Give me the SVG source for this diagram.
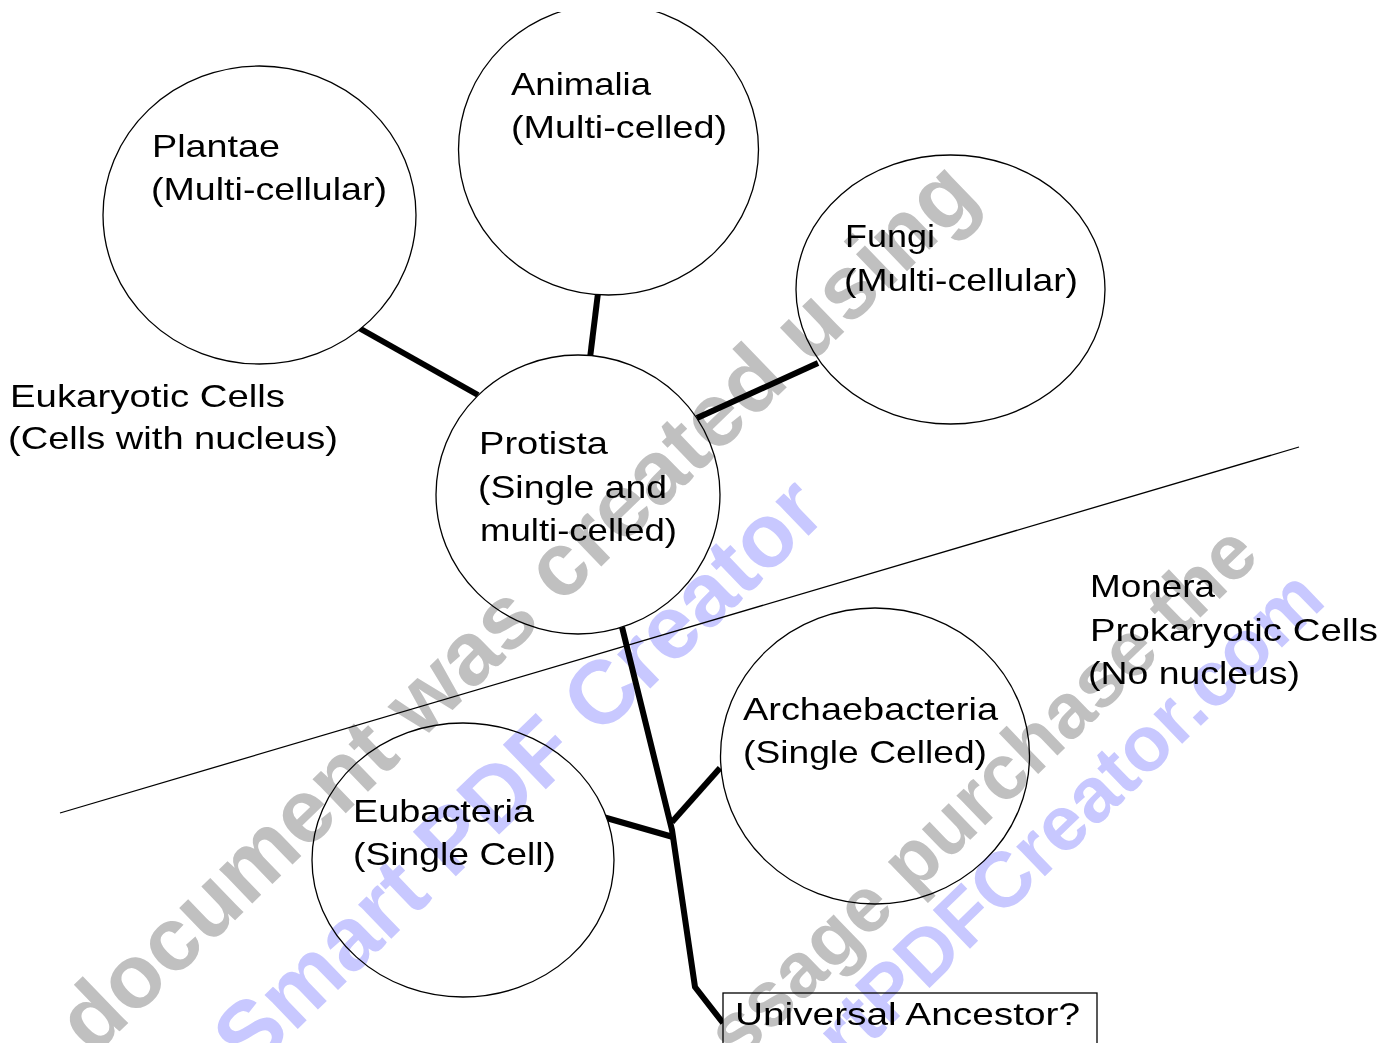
<svg xmlns="http://www.w3.org/2000/svg" width="1397" height="1043" viewBox="0 0 1397 1043">
<style>
.n{fill:#fff;stroke:#000;stroke-width:1.3}
.t{font-family:"Liberation Sans",Arial,sans-serif;font-size:32px;fill:#000}
.c{fill:none;stroke:#000;stroke-width:6;stroke-linejoin:round}
.div{fill:none;stroke:#000;stroke-width:1.3}
.wm{font-family:"Liberation Sans",Arial,sans-serif;font-weight:bold;mix-blend-mode:multiply}
.w1{font-size:90px}
.w2{font-size:78px}
.g{fill:#c0c0c0}
.b{fill:#c8c8ff}
</style>
<defs>
<clipPath id="top"><rect x="0" y="12" width="1397" height="1031"/></clipPath>
</defs>
<rect width="1397" height="1043" fill="#fff"/>
<line class="div" x1="60" y1="813" x2="1299" y2="447"/>
<g id="connectors">
<line class="c" x1="359" y1="328" x2="478" y2="395"/>
<line class="c" x1="598" y1="293" x2="590" y2="358"/>
<line class="c" x1="818" y1="363" x2="697" y2="418"/>
<polyline class="c" points="622,627 672,830 695,987 723,1023"/>
<line class="c" x1="603" y1="817" x2="673" y2="837"/>
<line class="c" x1="720" y1="768" x2="672" y2="822"/>
</g>
<g id="plantae">
<ellipse class="n" cx="259.5" cy="215" rx="156.5" ry="149"/>
<text class="t" x="152" y="157" textLength="128" lengthAdjust="spacingAndGlyphs">Plantae</text>
<text class="t" x="151" y="200" textLength="236" lengthAdjust="spacingAndGlyphs">(Multi-cellular)</text>
</g>
<g id="animalia">
<ellipse class="n" cx="608.5" cy="149.5" rx="150" ry="145.5" clip-path="url(#top)"/>
<text class="t" x="511" y="95" textLength="140" lengthAdjust="spacingAndGlyphs">Animalia</text>
<text class="t" x="511" y="138" textLength="216" lengthAdjust="spacingAndGlyphs">(Multi-celled)</text>
</g>
<g id="fungi">
<ellipse class="n" cx="950.5" cy="289.5" rx="154.5" ry="134.5"/>
<text class="t" x="845" y="247" textLength="90" lengthAdjust="spacingAndGlyphs">Fungi</text>
<text class="t" x="844" y="291" textLength="234" lengthAdjust="spacingAndGlyphs">(Multi-cellular)</text>
</g>
<g id="eukaryotic">
<text class="t" x="10" y="407" textLength="275" lengthAdjust="spacingAndGlyphs">Eukaryotic Cells</text>
<text class="t" x="8" y="449" textLength="330" lengthAdjust="spacingAndGlyphs">(Cells with nucleus)</text>
</g>
<g id="protista">
<ellipse class="n" cx="578" cy="494.5" rx="142" ry="139.5"/>
<text class="t" x="479" y="454" textLength="129" lengthAdjust="spacingAndGlyphs">Protista</text>
<text class="t" x="478" y="498" textLength="189" lengthAdjust="spacingAndGlyphs">(Single and</text>
<text class="t" x="480" y="541" textLength="197" lengthAdjust="spacingAndGlyphs">multi-celled)</text>
</g>
<g id="monera">
<text class="t" x="1090" y="597" textLength="125" lengthAdjust="spacingAndGlyphs">Monera</text>
<text class="t" x="1090" y="641" textLength="288" lengthAdjust="spacingAndGlyphs">Prokaryotic Cells</text>
<text class="t" x="1088" y="684" textLength="212" lengthAdjust="spacingAndGlyphs">(No nucleus)</text>
</g>
<g id="archaebacteria">
<ellipse class="n" cx="875" cy="756" rx="154.5" ry="148"/>
<text class="t" x="743" y="720" textLength="255" lengthAdjust="spacingAndGlyphs">Archaebacteria</text>
<text class="t" x="743" y="763" textLength="244" lengthAdjust="spacingAndGlyphs">(Single Celled)</text>
</g>
<g id="eubacteria">
<ellipse class="n" cx="463" cy="860" rx="151" ry="137"/>
<text class="t" x="353" y="822" textLength="181" lengthAdjust="spacingAndGlyphs">Eubacteria</text>
<text class="t" x="353" y="865" textLength="203" lengthAdjust="spacingAndGlyphs">(Single Cell)</text>
</g>
<g id="ancestor">
<rect class="n" x="723" y="993" width="374" height="55"/>
<text class="t" x="735" y="1025" textLength="345" lengthAdjust="spacingAndGlyphs">Universal Ancestor?</text>
</g>
<g id="watermark">
<text class="wm w1 g" transform="translate(-58,1203) rotate(-44)">This document was created using</text>
<text class="wm w1 b" transform="translate(250,1075) rotate(-44)">Smart PDF Creator</text>
<text class="wm w2 g" transform="translate(1262,558) rotate(-44)" text-anchor="end">To remove this message purchase the</text>
<text class="wm w2 b" transform="translate(1328,603) rotate(-44)" text-anchor="end">product at www.SmartPDFCreator.com</text>
</g>
</svg>
